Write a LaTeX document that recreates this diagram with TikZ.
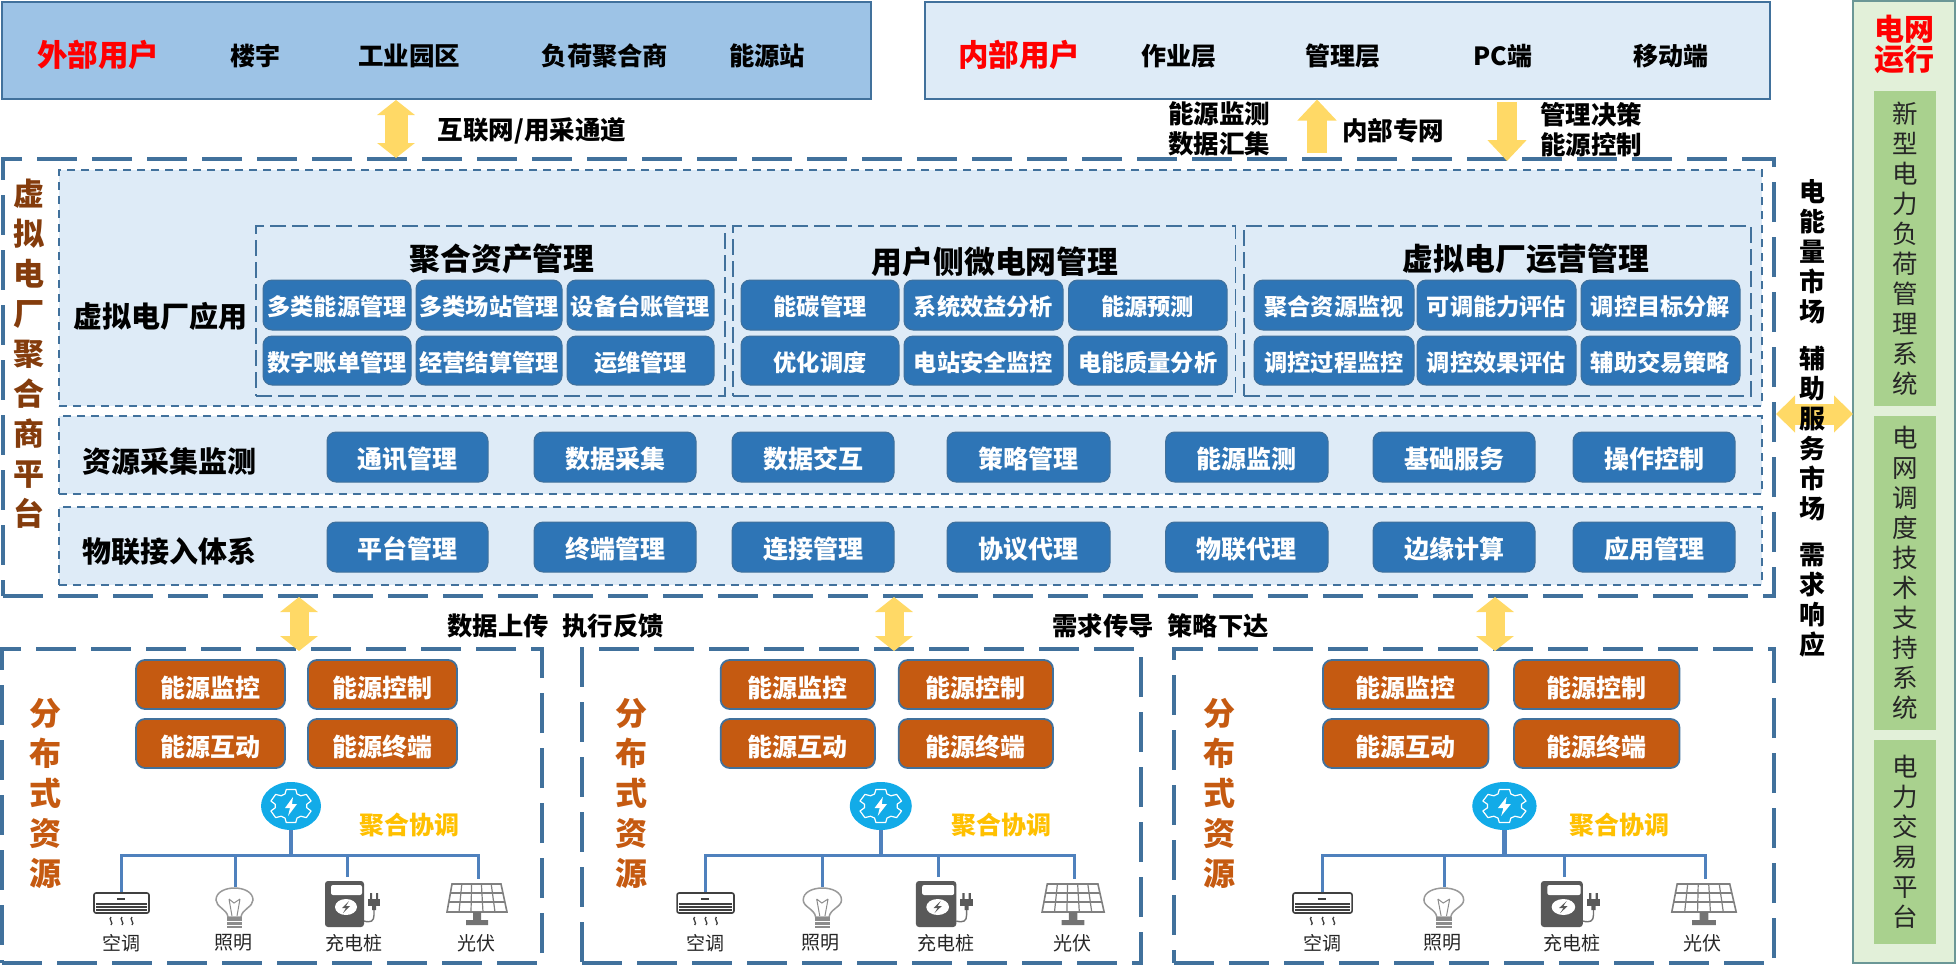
\documentclass[tikz,border=0pt]{standalone}
\usepackage{fontspec}
\setmainfont{Noto Sans CJK SC}
\usetikzlibrary{arrows.meta,shapes.geometric}
\definecolor{edgeblue}{HTML}{41719C}
\definecolor{paleblue}{HTML}{DEEBF7}
\definecolor{midblue}{HTML}{9DC3E6}
\definecolor{tileblue}{HTML}{2E75B6}
\definecolor{tilebrown}{HTML}{C55A11}
\definecolor{deepbrown}{HTML}{843C0C}
\definecolor{arrowyellow}{HTML}{FFD966}
\definecolor{gold}{HTML}{FFC000}
\definecolor{palegreen}{HTML}{E2F0D9}
\definecolor{leaf}{HTML}{A9D18E}
\definecolor{hubblue}{HTML}{12ABE8}
\definecolor{treeblue}{HTML}{4F81BD}
\definecolor{icongrey}{HTML}{595959}
\tikzset{
  fs/.style={font=\fontsize{#1}{#1}\selectfont},
  fb/.style={font=\bfseries\fontsize{#1}{#1}\selectfont},
  vb/.style 2 args={align=center,font=\bfseries\fontsize{#1}{#2}\selectfont},
  vr/.style 2 args={align=center,font=\fontsize{#1}{#2}\selectfont},
  frame/.style={draw=edgeblue,inner sep=0pt,outer sep=0pt},
  thickdash/.style={frame,line width=4.6pt,dash pattern=on 40pt off 15pt},
  banddash/.style={frame,line width=1.8pt,dash pattern=on 8pt off 6pt},
  thindash/.style={frame,line width=1.8pt,dash pattern=on 16pt off 6pt},
  band/.style={banddash,fill=paleblue},
  bluetile/.style={frame,fill=tileblue,line width=1pt,rounded corners=9pt,text=white,fb=#1,text height=1.0*#1 pt-1.5pt,text depth=0pt},
  browntile/.style={frame,fill=tilebrown,line width=1.8pt,rounded corners=9pt,text=white,fb=25,text height=25pt,text depth=0pt},
  panel/.style={inner sep=0pt,outer sep=0pt,fill=leaf,text=black!85,vr={25.5}{30}},
  block/.style={draw=arrowyellow,line width=#1},
  twoway/.style={{Triangle[length=15pt,width=37pt]}-{Triangle[length=15pt,width=37pt]}},
  oneway/.style={{}-{Triangle[length=21pt,width=38pt]}},
  treeline/.style={draw=treeblue,line width=#1},
}
% style, name, x1, y1, x2, y2, text
\newcommand\bx[7]{\node[#1,minimum width={#5-#3},minimum height={#6-#4}] (#2) at ({(#3+#5)/2},{(#4+#6)/2}) {#7};}
% id, left, right, title x, tree origin, tree scale, caption x
\newcommand\distres[7]{%
  \pgfmathsetmacro\sx{(#3-#2)/540}
  \bx{thickdash}{res#1}{#2}{649}{#3}{963}{}
  \node[vb={32}{40},text=tilebrown] (title#1) at (#4,793) {分\\布\\式\\资\\源};
  \pgfmathsetmacro\xa{#2+134*\sx}\pgfmathsetmacro\xb{#2+283*\sx}
  \pgfmathsetmacro\xc{#2+306*\sx}\pgfmathsetmacro\xd{#2+455*\sx}
  \bx{browntile}{mon#1}{\xa}{660}{\xb}{709}{能源监控}
  \bx{browntile}{ctl#1}{\xc}{660}{\xd}{709}{能源控制}
  \bx{browntile}{act#1}{\xa}{719}{\xb}{768}{能源互动}
  \bx{browntile}{ter#1}{\xc}{719}{\xd}{768}{能源终端}
  \node[fb=25,text=gold] (coord#1) at (#7,825) {聚合协调};
  \begin{scope}[shift={(#5,0)},xscale=#6]
    \coordinate (joint#1) at (170,855);
    \coordinate (da#1) at (0,893);   \coordinate (db#1) at (114,887);
    \coordinate (dc#1) at (226,877); \coordinate (dd#1) at (357,879);
    \node[ellipse,fill=hubblue,inner sep=0pt,outer sep=0pt,minimum width={60*#6},minimum height=48] (hub#1) at (170,806) {};
    \begin{scope}[shift={(170,806)}]
      \draw[white,line width=1.2pt,line join=round] (17:21 and 17)
        foreach \th in {30,90,150,210,270,330}{ -- ({\th-13}:21 and 17) -- ({\th+13}:21 and 17) -- ({\th+22}:16 and 13) -- ({\th+38}:16 and 13) } -- cycle;
    \end{scope}
    \fill[white] (172,797) -- (164,808) -- (169,808) -- (167,816) -- (176,804) -- (171,804) -- cycle;
    \draw[treeline=4.5pt] (hub#1.south) -- (joint#1);
    \draw[treeline=3pt] (da#1) |- (joint#1) -| (dd#1);
    \draw[treeline=3pt] (db#1) -- (db#1 |- joint#1);
    \draw[treeline=3pt] (dc#1) -- (dc#1 |- joint#1);
    % air conditioner
    \draw[black!75,line width=1.6pt,rounded corners=2pt,fill=white] (-27,893) rectangle (28,913);
    \draw[black!75,line width=1.2pt] (-25,904) -- (26,904) (-25,907) -- (26,907) (-25,910) -- (26,910);
    \draw[black!75,line width=1.4pt] (-4,899) -- (4,899);
    \foreach \w in {-10,1,11}{\draw[black!75,line width=1.3pt] (\w,917) .. controls (\w-3,919) and (\w+3,923) .. (\w,925);}
    % bulb
    \draw[black!40,line width=1.5pt,fill=white] (107,917) .. controls (106,909) and (95,907) .. (95,900) .. controls (95,884) and (132,884) .. (132,900) .. controls (132,907) and (121,909) .. (120,917) -- cycle;
    \draw[black!45,line width=1pt] (108,899) -- (111,916) (119,899) -- (116,916) (108,899) -- (113,903) -- (119,899);
    \fill[black!45] (106,917) rectangle (121,928);
    \draw[white,line width=.8pt] (106,921) -- (121,921) (106,925) -- (121,925);
    % charging post
    \fill[icongrey,rounded corners=3pt] (204,881) rectangle (243,927);
    \fill[white,rounded corners=2pt] (210,885) rectangle (241,895);
    \fill[white] (225,907) ellipse (11 and 8);
    \fill[icongrey] (228,901) -- (221,908) -- (225,908) -- (222,913) -- (229,906) -- (225,906) -- cycle;
    \draw[black!55,line width=1.4pt] (243,921) .. controls (250,923) and (253,921) .. (253,915) -- (253,905);
    \fill[icongrey] (247,899) rectangle (259,906);
    \fill[icongrey] (249,893) rectangle (251,899) (255,893) rectangle (257,899) (251,906) rectangle (255,910);
    % solar panel
    \draw[black!50,line width=1.6pt] (331,884) -- (380,884) -- (386,912) -- (326,912) -- cycle;
    \draw[black!50,line width=1.2pt] (329.5,893) -- (382,893) (328,902) -- (384,902);
    \foreach \q in {1,2,3,4}{\draw[black!50,line width=1.2pt] ({331+\q*9.8},884) -- ({326+\q*12},912);}
    \fill[black!55] (352,912) rectangle (360,920) (345,920) rectangle (367,925);
    \node[fs=19,text=black!85] (la#1) at (0,943) {空调};
    \node[fs=19,text=black!85] (lb#1) at (112,943) {照明};
    \node[fs=19,text=black!85] (lc#1) at (233,943) {充电桩};
    \node[fs=19,text=black!85] (ld#1) at (355,943) {光伏};
  \end{scope}
}
\begin{document}
\begin{tikzpicture}[x=1pt,y=-1pt]
\useasboundingbox (0,0) rectangle (1956,967);
% users
\bx{frame,fill=midblue,line width=2pt}{ext}{2}{2}{871}{99}{}
\bx{frame,fill=paleblue,line width=2pt}{int}{925}{2}{1770}{99}{}
\node[fb=30.5,text=red] (extt) at (98,55) {外部用户};
\node[fb=25] (e1) at (255,56) {楼宇};
\node[fb=25.5] (e2) at (409,56) {工业园区};
\node[fb=25.3] (e3) at (605,56) {负荷聚合商};
\node[fb=25.3] (e4) at (767,56) {能源站};
\node[fb=30.5,text=red] (intt) at (1019,55) {内部用户};
\node[fb=25] (i1) at (1179,56) {作业层};
\node[fb=25] (i2) at (1343,56) {管理层};
\node[fb=25] (i3) at (1503,56) {PC端};
\node[fb=25] (i4) at (1671,56) {移动端};
% platform
\bx{thickdash}{plat}{3}{159}{1774}{596}{}
\bx{band}{app}{59}{170}{1762}{406}{}
\bx{band}{mon}{59}{416}{1762}{494}{}
\bx{band}{iot}{59}{507}{1762}{585}{}
\bx{thindash}{g1}{256}{226}{725}{396}{}
\bx{thindash}{g2}{733}{226}{1235.5}{396}{}
\bx{thindash}{g3}{1244}{226}{1751}{396}{}
\node[vb={31}{40},text=deepbrown] (pt) at (29,354) {虚\\拟\\电\\厂\\聚\\合\\商\\平\\台};
\node[fb=29] (l1) at (160,316) {虚拟电厂应用};
\node[fb=29] (l2) at (169,461) {资源采集监测};
\node[fb=29] (l3) at (169,552) {物联接入体系};
\node[fb=30.8] (h1) at (502,259) {聚合资产管理};
\node[fb=30.8] (h2) at (995,262) {用户侧微电网管理};
\node[fb=30.8] (h3) at (1526,259) {虚拟电厂运营管理};
\foreach \n/\a/\b/\t in {a/263/411/多类能源管理,b/416/562/多类场站管理,c/567/714/设备台账管理,e/741/899/能碳管理,f/904/1063/系统效益分析,g/1068.5/1227/能源预测,i/1254/1414/聚合资源监视,j/1417/1576/可调能力评估,k/1581/1740/调控目标分解}
  {\bx{bluetile=23.2}{r\n}{\a}{280}{\b}{330}{\t}}
\foreach \n/\a/\b/\t in {a/263/411/数字账单管理,b/416/562/经营结算管理,c/567/714/运维管理,e/741/899/优化调度,f/904/1063/电站安全监控,g/1068.5/1227/电能质量分析,i/1254/1414/调控过程监控,j/1417/1576/调控效果评估,k/1581/1740/辅助交易策略}
  {\bx{bluetile=23.2}{s\n}{\a}{336}{\b}{385}{\t}}
\foreach \n/\a/\b/\t in {a/327/488/通讯管理,b/534/696/数据采集,c/732/894/数据交互,d/947/1110/策略管理,e/1165.7/1328/能源监测,f/1373/1535/基础服务,g/1573/1735/操作控制}
  {\bx{bluetile=25}{m\n}{\a}{432}{\b}{482}{\t}}
\foreach \n/\a/\b/\t in {a/327/488/平台管理,b/534/696/终端管理,c/732/894/连接管理,d/947/1110/协议代理,e/1165.7/1328/物联代理,f/1373/1535/边缘计算,g/1573/1735/应用管理}
  {\bx{bluetile=25}{p\n}{\a}{522}{\b}{572}{\t}}
% distributed resources
\distres{A}{2}{542}{45}{121}{1}{409}
\distres{B}{582}{1141}{631}{705}{1.034}{1001}
\distres{C}{1174}{1774}{1219}{1322}{1.073}{1619}
% grid column
\bx{frame,draw=edgeblue!60!leaf,fill=palegreen,line width=2pt}{grid}{1853}{1}{1955}{963}{}
\node[vb={30}{30},text=red] (gt) at (1904,44) {电网\\运行};
\bx{panel}{pa}{1874}{91}{1936}{406}{新\\型\\电\\力\\负\\荷\\管\\理\\系\\统}
\bx{panel}{pb}{1874}{416}{1936}{730}{电\\网\\调\\度\\技\\术\\支\\持\\系\\统}
\bx{panel}{pc}{1874}{740}{1936}{944}{电\\力\\交\\易\\平\\台}
% yellow arrows
\coordinate (u1) at (396,100); \coordinate (u2) at (396,158);
\draw[block=23pt,twoway] (u1) -- (u2);
\coordinate (v1) at (1317,153); \coordinate (v2) at (1317,99.5);
\draw[block=20pt,oneway] (v1) -- (v2);
\coordinate (w1) at (1507,102); \coordinate (w2) at (1507,161);
\draw[block=20pt,oneway] (w1) -- (w2);
\coordinate (x1) at (299,597); \coordinate (x2) at (299,651);
\coordinate (y1) at (894,597); \coordinate (y2) at (894,651);
\coordinate (z1) at (1495,597); \coordinate (z2) at (1495,651);
\draw[block=19pt,twoway] (x1) -- (x2);
\draw[block=19pt,twoway] (y1) -- (y2);
\draw[block=19pt,twoway] (z1) -- (z2);
\coordinate (q1) at (1776,414); \coordinate (q2) at (1853,414);
\draw[block=21pt,{Triangle[length=19pt,width=36pt]}-{Triangle[length=19pt,width=36pt]}] (q1) -- (q2);
% arrow labels
\node[fb=25.5] (n1) at (532,131) {互联网/用采通道};
\node[vb={25.5}{30}] (n2) at (1219,129) {能源监测\\数据汇集};
\node[fb=25.5] (n3) at (1393,131) {内部专网};
\node[vb={25.5}{30}] (n4) at (1591,130) {管理决策\\能源控制};
\node[fb=25.3] (n5) at (498,626) {数据上传};
\node[fb=25.3] (n6) at (613,626) {执行反馈};
\node[fb=25.3] (n7) at (1103,626) {需求传导};
\node[fb=25.3] (n8) at (1218,626) {策略下达};
\node[vb={26}{30}] (mk1) at (1812,252) {电\\能\\量\\市\\场};
\node[vb={26}{30}] (mk2) at (1812,433) {辅\\助\\服\\务\\市\\场};
\node[vb={26}{30}] (mk3) at (1812,600) {需\\求\\响\\应};
\end{tikzpicture}
\end{document}
